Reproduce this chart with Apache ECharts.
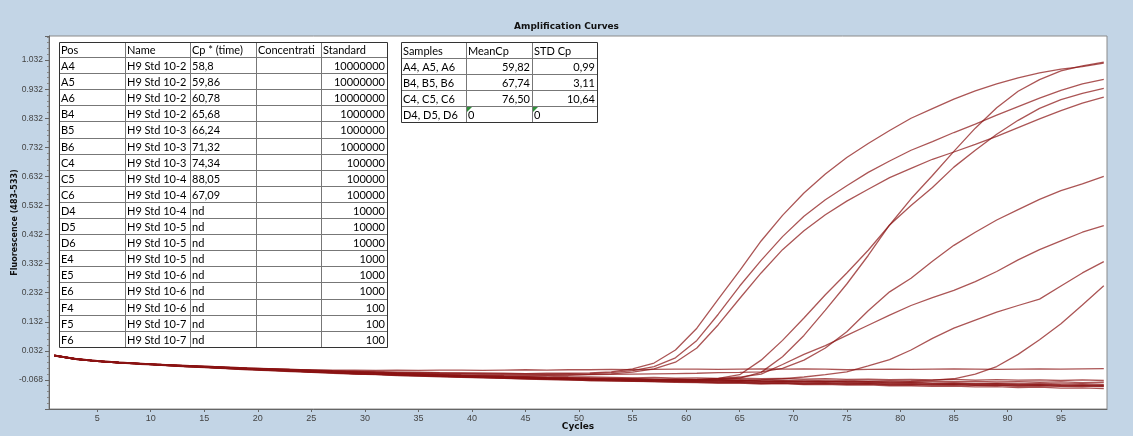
<!DOCTYPE html>
<html lang="en">

<head>
    <meta charset="UTF-8">
    <title>Amplification Curves</title>
    <script src="https://cdn.jsdelivr.net/npm/echarts@6.0.0/dist/echarts.min.js"></script>
    <style>
        html, body {
            margin: 0;
            padding: 0;
            background: #c3d5e6;
        }

        #main {
            width: 1133px;
            height: 436px;
        }
    </style>
</head>

<body>
    <div id="main"></div>
    <script>
        // cycles read every 2 cycles
        var cycles = [1, 3, 5, 7, 9, 11, 13, 15, 17, 19, 21, 23, 25, 27, 29, 31, 33, 35, 37, 39,
            41, 43, 45, 47, 49, 51, 53, 55, 57, 59, 61, 63, 65, 67, 69, 71, 73, 75, 77, 79,
            81, 83, 85, 87, 89, 91, 93, 95, 97, 99];
        var cycleTicks = [5, 10, 15, 20, 25, 30, 35, 40, 45, 50, 55, 60, 65, 70, 75, 80, 85, 90, 95];

        // fluorescence (483-533) per well
        var a4 = [0.017, 0.005, -0.002, -0.007, -0.011, -0.015, -0.018, -0.021, -0.024, -0.027,
            -0.029, -0.031, -0.034, -0.036, -0.037, -0.039, -0.041, -0.041, -0.043, -0.044,
            -0.044, -0.045, -0.046, -0.045, -0.045, -0.044, -0.040, -0.030, -0.010, 0.035,
            0.110, 0.210, 0.308, 0.410, 0.498, 0.575, 0.640, 0.697, 0.745, 0.790,
            0.832, 0.865, 0.898, 0.926, 0.950, 0.971, 0.988, 1.001, 1.010, 1.022];
        var a5 = [0.016, 0.004, -0.003, -0.008, -0.012, -0.015, -0.019, -0.022, -0.025, -0.028,
            -0.030, -0.033, -0.035, -0.037, -0.039, -0.041, -0.042, -0.043, -0.044, -0.045,
            -0.046, -0.047, -0.047, -0.048, -0.047, -0.046, -0.043, -0.036, -0.022, 0.008,
            0.068, 0.158, 0.255, 0.343, 0.425, 0.495, 0.552, 0.600, 0.646, 0.685,
            0.722, 0.752, 0.783, 0.812, 0.843, 0.872, 0.901, 0.928, 0.950, 0.966];
        var a6 = [0.015, 0.003, -0.004, -0.009, -0.013, -0.016, -0.020, -0.023, -0.026, -0.029,
            -0.031, -0.034, -0.036, -0.038, -0.040, -0.042, -0.044, -0.045, -0.046, -0.047,
            -0.048, -0.049, -0.049, -0.050, -0.050, -0.049, -0.047, -0.041, -0.030, -0.007,
            0.042, 0.122, 0.212, 0.300, 0.380, 0.445, 0.500, 0.547, 0.588, 0.628,
            0.660, 0.691, 0.716, 0.742, 0.770, 0.800, 0.830, 0.858, 0.884, 0.905];
        var b4 = [0.016, 0.004, -0.003, -0.008, -0.012, -0.016, -0.020, -0.023, -0.027, -0.030,
            -0.033, -0.036, -0.039, -0.041, -0.044, -0.046, -0.048, -0.050, -0.052, -0.054,
            -0.056, -0.058, -0.060, -0.061, -0.063, -0.064, -0.065, -0.066, -0.066, -0.067,
            -0.066, -0.063, -0.050, 0.000, 0.068, 0.145, 0.225, 0.300, 0.378, 0.465,
            0.555, 0.635, 0.718, 0.798, 0.868, 0.925, 0.965, 0.995, 1.012, 1.025];
        var b5 = [0.015, 0.004, -0.004, -0.009, -0.013, -0.017, -0.021, -0.024, -0.027, -0.031,
            -0.034, -0.037, -0.040, -0.042, -0.045, -0.047, -0.049, -0.051, -0.053, -0.055,
            -0.057, -0.059, -0.061, -0.062, -0.064, -0.065, -0.066, -0.067, -0.068, -0.068,
            -0.068, -0.067, -0.062, -0.042, 0.012, 0.085, 0.172, 0.262, 0.360, 0.465,
            0.532, 0.594, 0.664, 0.722, 0.777, 0.825, 0.866, 0.896, 0.918, 0.935];
        var b6 = [0.016, 0.004, -0.003, -0.008, -0.012, -0.016, -0.020, -0.024, -0.027, -0.030,
            -0.033, -0.036, -0.039, -0.042, -0.044, -0.046, -0.049, -0.051, -0.053, -0.055,
            -0.057, -0.059, -0.061, -0.063, -0.064, -0.066, -0.067, -0.068, -0.069, -0.069,
            -0.068, -0.064, -0.058, -0.048, -0.015, 0.020, 0.050, 0.085, 0.120, 0.155,
            0.188, 0.215, 0.240, 0.270, 0.305, 0.345, 0.380, 0.410, 0.440, 0.463];
        var c4 = [0.015, 0.003, -0.004, -0.009, -0.013, -0.017, -0.021, -0.024, -0.028, -0.031,
            -0.034, -0.037, -0.040, -0.043, -0.046, -0.048, -0.050, -0.052, -0.054, -0.056,
            -0.058, -0.060, -0.062, -0.063, -0.065, -0.066, -0.067, -0.068, -0.069, -0.070,
            -0.070, -0.071, -0.070, -0.068, -0.064, -0.058, -0.050, -0.040, -0.020, 0.002,
            0.035, 0.075, 0.110, 0.138, 0.165, 0.188, 0.210, 0.255, 0.300, 0.339];
        var c5 = [0.016, 0.004, -0.003, -0.008, -0.013, -0.017, -0.021, -0.024, -0.028, -0.031,
            -0.034, -0.037, -0.040, -0.043, -0.046, -0.048, -0.051, -0.053, -0.055, -0.057,
            -0.059, -0.061, -0.063, -0.064, -0.066, -0.067, -0.068, -0.069, -0.070, -0.071,
            -0.072, -0.072, -0.073, -0.074, -0.074, -0.075, -0.075, -0.074, -0.073, -0.072,
            -0.071, -0.069, -0.064, -0.048, -0.022, 0.020, 0.070, 0.125, 0.190, 0.256];
        var c6 = [0.016, 0.005, -0.003, -0.008, -0.012, -0.016, -0.019, -0.022, -0.026, -0.029,
            -0.032, -0.035, -0.037, -0.040, -0.042, -0.044, -0.046, -0.048, -0.050, -0.052,
            -0.054, -0.054, -0.054, -0.053, -0.052, -0.050, -0.049, -0.048, -0.047, -0.046,
            -0.045, -0.043, -0.042, -0.040, -0.028, 0.000, 0.042, 0.098, 0.170, 0.235,
            0.282, 0.340, 0.395, 0.440, 0.482, 0.518, 0.553, 0.583, 0.606, 0.632];
        var d4 = [0.016, 0.004, -0.003, -0.008, -0.012, -0.016, -0.019, -0.022, -0.025, -0.028,
            -0.030, -0.032, -0.033, -0.034, -0.034, -0.035, -0.034, -0.035, -0.034, -0.034,
            -0.035, -0.034, -0.033, -0.034, -0.033, -0.033, -0.032, -0.033, -0.032, -0.031,
            -0.031, -0.032, -0.031, -0.030, -0.031, -0.030, -0.031, -0.033, -0.032, -0.031,
            -0.032, -0.031, -0.030, -0.031, -0.032, -0.031, -0.030, -0.031, -0.030, -0.029];
        var d5 = [0.016, 0.004, -0.003, -0.008, -0.012, -0.016, -0.020, -0.023, -0.027, -0.030,
            -0.033, -0.036, -0.039, -0.042, -0.045, -0.047, -0.049, -0.052, -0.054, -0.056,
            -0.058, -0.060, -0.061, -0.064, -0.065, -0.068, -0.068, -0.071, -0.070, -0.073,
            -0.072, -0.075, -0.074, -0.077, -0.076, -0.078, -0.077, -0.080, -0.079, -0.081,
            -0.080, -0.083, -0.082, -0.084, -0.083, -0.085, -0.084, -0.087, -0.085, -0.087];
        var d6 = [0.015, 0.003, -0.004, -0.009, -0.013, -0.017, -0.021, -0.025, -0.028, -0.032,
            -0.035, -0.038, -0.041, -0.044, -0.047, -0.049, -0.052, -0.054, -0.056, -0.058,
            -0.060, -0.062, -0.064, -0.066, -0.068, -0.070, -0.071, -0.073, -0.074, -0.076,
            -0.077, -0.079, -0.079, -0.082, -0.081, -0.084, -0.083, -0.086, -0.085, -0.088,
            -0.088, -0.090, -0.089, -0.092, -0.091, -0.094, -0.093, -0.096, -0.095, -0.098];
        var e4 = [0.016, 0.004, -0.003, -0.008, -0.012, -0.016, -0.019, -0.022, -0.025, -0.028,
            -0.031, -0.034, -0.037, -0.040, -0.042, -0.044, -0.046, -0.048, -0.050, -0.052,
            -0.054, -0.056, -0.057, -0.059, -0.060, -0.062, -0.063, -0.064, -0.066, -0.065,
            -0.067, -0.066, -0.069, -0.068, -0.070, -0.069, -0.071, -0.070, -0.072, -0.071,
            -0.073, -0.072, -0.074, -0.073, -0.075, -0.074, -0.076, -0.075, -0.077, -0.076];
        var e5 = [0.017, 0.005, -0.002, -0.007, -0.011, -0.015, -0.018, -0.021, -0.024, -0.027,
            -0.030, -0.033, -0.035, -0.038, -0.040, -0.042, -0.044, -0.046, -0.048, -0.050,
            -0.051, -0.053, -0.054, -0.055, -0.057, -0.058, -0.059, -0.061, -0.059, -0.062,
            -0.061, -0.063, -0.062, -0.064, -0.063, -0.065, -0.064, -0.066, -0.065, -0.067,
            -0.066, -0.068, -0.066, -0.069, -0.067, -0.069, -0.068, -0.070, -0.068, -0.070];
        var e6 = [0.015, 0.003, -0.004, -0.009, -0.014, -0.018, -0.022, -0.026, -0.029, -0.033,
            -0.036, -0.039, -0.042, -0.045, -0.048, -0.050, -0.053, -0.055, -0.057, -0.059,
            -0.061, -0.063, -0.065, -0.067, -0.068, -0.070, -0.071, -0.072, -0.074, -0.075,
            -0.076, -0.078, -0.077, -0.080, -0.079, -0.082, -0.081, -0.083, -0.082, -0.085,
            -0.084, -0.086, -0.085, -0.087, -0.086, -0.089, -0.088, -0.090, -0.089, -0.091];
        var f4 = [0.016, 0.004, -0.003, -0.008, -0.012, -0.016, -0.020, -0.023, -0.026, -0.029,
            -0.032, -0.035, -0.038, -0.041, -0.043, -0.046, -0.048, -0.050, -0.052, -0.054,
            -0.056, -0.058, -0.059, -0.061, -0.062, -0.064, -0.065, -0.067, -0.066, -0.069,
            -0.068, -0.071, -0.070, -0.073, -0.072, -0.074, -0.073, -0.076, -0.075, -0.077,
            -0.076, -0.079, -0.078, -0.080, -0.079, -0.081, -0.080, -0.082, -0.081, -0.083];
        var f5 = [0.016, 0.004, -0.003, -0.009, -0.013, -0.017, -0.021, -0.024, -0.028, -0.031,
            -0.034, -0.037, -0.040, -0.043, -0.046, -0.048, -0.051, -0.053, -0.055, -0.057,
            -0.059, -0.061, -0.063, -0.065, -0.067, -0.068, -0.070, -0.071, -0.073, -0.074,
            -0.074, -0.077, -0.076, -0.079, -0.078, -0.081, -0.080, -0.082, -0.081, -0.084,
            -0.083, -0.085, -0.084, -0.087, -0.086, -0.088, -0.087, -0.089, -0.088, -0.090];
        var f6 = [0.016, 0.004, -0.003, -0.008, -0.012, -0.016, -0.020, -0.023, -0.026, -0.030,
            -0.033, -0.036, -0.038, -0.041, -0.044, -0.046, -0.048, -0.050, -0.052, -0.054,
            -0.055, -0.057, -0.058, -0.060, -0.061, -0.062, -0.064, -0.063, -0.066, -0.065,
            -0.067, -0.069, -0.068, -0.071, -0.072, -0.074, -0.073, -0.075, -0.076, -0.078,
            -0.077, -0.080, -0.079, -0.082, -0.081, -0.084, -0.083, -0.085, -0.086, -0.087];

        // results table
        var tableHead = ['Pos', 'Name', 'Cp * (time)', 'Concentration', 'Standard'];
        var wells = ['A4', 'A5', 'A6', 'B4', 'B5', 'B6', 'C4', 'C5', 'C6',
            'D4', 'D5', 'D6', 'E4', 'E5', 'E6', 'F4', 'F5', 'F6'];
        var sampleNames = ['H9 Std 10-2', 'H9 Std 10-2', 'H9 Std 10-2', 'H9 Std 10-2', 'H9 Std 10-3', 'H9 Std 10-3',
            'H9 Std 10-3', 'H9 Std 10-4', 'H9 Std 10-4', 'H9 Std 10-4', 'H9 Std 10-5', 'H9 Std 10-5',
            'H9 Std 10-5', 'H9 Std 10-6', 'H9 Std 10-6', 'H9 Std 10-6', 'H9 Std 10-7', 'H9 Std 10-7'];
        var cpTimes = ['58,8', '59,86', '60,78', '65,68', '66,24', '71,32', '74,34', '88,05', '67,09',
            'nd', 'nd', 'nd', 'nd', 'nd', 'nd', 'nd', 'nd', 'nd'];
        var standards = ['10000000', '10000000', '10000000', '1000000', '1000000', '1000000',
            '100000', '100000', '100000', '10000', '10000', '10000', '1000', '1000', '1000', '100', '100', '100'];

        // summary table
        var summaryHead = ['Samples', 'MeanCp', 'STD Cp'];
        var sampleGroups = ['A4, A5, A6', 'B4, B5, B6', 'C4, C5, C6', 'D4, D5, D6'];
        var meanCp = ['59,82', '67,74', '76,50', '0'];
        var stdCp = ['0,99', '3,11', '10,64', '0'];

        var wellData = [a4, a5, a6, b4, b5, b6, c4, c5, c6, d4, d5, d6, e4, e5, e6, f4, f5, f6];

        var series = wells.map(function (w, k) {
            return {
                name: w,
                type: 'line',
                showSymbol: false,
                symbol: 'none',
                silent: true,
                lineStyle: { width: 1.3, color: '#8b1414', opacity: 0.72 },
                data: cycles.map(function (c, i) { return [c, wellData[k][i]]; })
            };
        });

        // table drawing
        var cellFont = '11px Lato, "Open Sans", sans-serif';
        var elements = [];

        function addLine(x1, y1, x2, y2, color) {
            elements.push({
                type: 'line', z: 100,
                shape: { x1: x1, y1: y1, x2: x2, y2: y2 },
                style: { stroke: color, lineWidth: 1 }
            });
        }

        function addText(x, y, w, h, text, align) {
            elements.push({
                type: 'text', z: 101,
                x: align === 'right' ? x + w - 2 : x + 2,
                y: y + h / 2 + 1,
                style: {
                    text: text, font: cellFont, fill: '#000',
                    align: align, verticalAlign: 'middle',
                    width: w - 2, overflow: 'truncate', ellipsis: ''
                }
            });
        }

        function addTable(colX, top, headH, rowH, rows, aligns) {
            var nRows = rows.length;
            var bottom = Math.round(top + headH + (nRows - 1) * rowH);
            var left = colX[0], right = colX[colX.length - 1];
            elements.push({
                type: 'rect', z: 99,
                shape: { x: left, y: top, width: right - left, height: bottom - top },
                style: { fill: '#fff' }
            });
            for (var r = 0; r < nRows; r++) {
                var y = Math.round(r === 0 ? top : top + headH + (r - 1) * rowH);
                var h = r === 0 ? headH : rowH;
                for (var c = 0; c < colX.length - 1; c++) {
                    addText(colX[c], y, colX[c + 1] - colX[c], h, rows[r][c], r === 0 ? 'left' : aligns[c]);
                }
                if (r > 0) addLine(left, y + 0.5, right, y + 0.5, '#777');
            }
            for (var c2 = 1; c2 < colX.length - 1; c2++) {
                addLine(colX[c2] + 0.5, top, colX[c2] + 0.5, bottom, '#777');
            }
            elements.push({
                type: 'rect', z: 102,
                shape: { x: left + 0.5, y: top + 0.5, width: right - left, height: bottom - top },
                style: { fill: 'none', stroke: '#333', lineWidth: 1 }
            });
        }

        var mainRows = [tableHead];
        wells.forEach(function (w, i) {
            mainRows.push([w, sampleNames[i], cpTimes[i], '', standards[i]]);
        });
        addTable([59, 125, 190, 256, 321, 387], 42, 15, 16.1, mainRows, ['left', 'left', 'left', 'left', 'right']);

        var sumRows = [summaryHead];
        sampleGroups.forEach(function (s, i) {
            sumRows.push([s, meanCp[i], stdCp[i]]);
        });
        addTable([401, 466, 532, 597], 42, 16, 16, sumRows, ['left', 'right', 'right']);
        // last summary row holds text "0" values (left aligned, with Excel's green markers)
        elements = elements.filter(function (el) {
            return !(el.type === 'text' && el.style.text === '0');
        });
        [466, 532].forEach(function (x) {
            addText(x, 42 + 16 + 3 * 16, 66, 16, '0', 'left');
            elements.push({
                type: 'polygon', z: 103,
                shape: { points: [[x + 1, 107], [x + 6, 107], [x + 1, 112]] },
                style: { fill: '#2f8f3a' }
            });
        });

        var chart = echarts.init(document.getElementById('main'));

        var option = {
            backgroundColor: '#c3d5e6',
            animation: false,
            title: {
                text: 'Amplification Curves',
                left: 'center',
                top: 17,
                textStyle: { fontSize: 9, fontWeight: 'bold', fontFamily: 'DejaVu Sans', color: '#111' }
            },
            grid: {
                left: 49, right: 26, top: 36, bottom: 27,
                outerBoundsMode: 'none',
                show: true, backgroundColor: '#fff', borderColor: '#8a8a8a', borderWidth: 1
            },
            xAxis: {
                type: 'value',
                min: 0.5,
                max: 99.3,
                name: 'Cycles',
                nameLocation: 'middle',
                nameGap: 13,
                nameMoveOverlap: false,
                nameTextStyle: { fontSize: 9, fontWeight: 'bold', fontFamily: 'DejaVu Sans', color: '#111' },
                axisLine: { onZero: false, lineStyle: { color: '#666' } },
                axisTick: { customValues: cycleTicks, length: 3, lineStyle: { color: '#666' } },
                axisLabel: {
                    customValues: cycleTicks, margin: 5,
                    fontSize: 9, fontFamily: 'Liberation Sans', color: '#444'
                },
                splitLine: { show: false }
            },
            yAxis: {
                type: 'value',
                min: -0.168,
                max: 1.115,
                interval: 0.1,
                name: 'Fluorescence (483-533)',
                nameLocation: 'middle',
                nameGap: 30,
                nameMoveOverlap: false,
                nameTextStyle: { fontSize: 8, fontWeight: 'bold', fontFamily: 'DejaVu Sans', color: '#111' },
                axisLine: { show: true, onZero: false, lineStyle: { color: '#666' } },
                axisTick: { show: true, length: 4, lineStyle: { color: '#666' } },
                minorTick: { show: true, splitNumber: 5, length: 2, lineStyle: { color: '#888' } },
                axisLabel: {
                    showMinLabel: false, showMaxLabel: false, margin: 6,
                    fontSize: 8.5, fontFamily: 'Liberation Sans', color: '#444',
                    formatter: function (v) { return v.toFixed(3); }
                },
                splitLine: { show: false }
            },
            graphic: { elements: elements },
            series: series
        };

        chart.setOption(option);
    </script>
</body>

</html>
